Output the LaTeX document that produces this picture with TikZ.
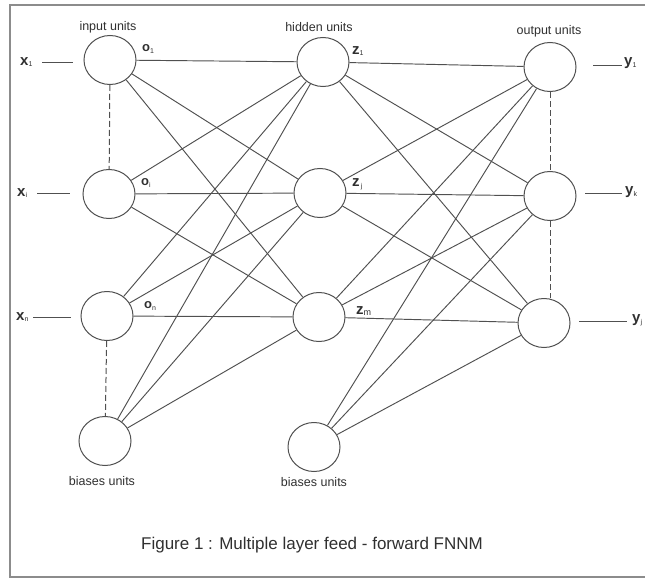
\documentclass[tikz,border=0pt]{standalone}
\usepackage{fontspec}
\setmainfont{Liberation Sans}
\usetikzlibrary{shapes.geometric}
\definecolor{ln}{HTML}{505050}
\definecolor{fr}{HTML}{8C8C8C}
\definecolor{tx}{HTML}{303030}
\newcommand\vlab[4]{{\fontsize{#1}{#1}\selectfont #2#3\raisebox{-0.12em}{\fontsize{7}{7}\selectfont\mdseries #4}}}
\begin{document}
\begin{tikzpicture}[x=1pt,y=-1pt,
  unit/.style={ellipse,draw=ln,line width=1pt,minimum width=52pt,minimum height=49pt,inner sep=0pt},
  conn/.style={draw=ln,line width=0.95pt},
  dashconn/.style={draw=ln,line width=1pt,dash pattern=on 6pt off 3pt},
  txt/.style={font=\fontsize{12.5}{14}\selectfont,text=tx,inner sep=0pt},
  var/.style={text=tx,inner sep=0pt,anchor=west},
  captxt/.style={font=\fontsize{17}{19}\selectfont,text=tx,inner sep=0pt}]
\useasboundingbox (0,0) rectangle (645,578);
\draw[fr,line width=1.5pt] (646,5) -- (10,5) -- (10,577) -- (646,577);
% units
\node[unit] (i1) at (110,60) {};
\node[unit] (ii) at (109,194) {};
\node[unit] (in) at (107,316) {};
\node[unit] (ib) at (105,441) {};
\node[unit] (h1) at (323,62) {};
\node[unit] (hj) at (320,193) {};
\node[unit] (hm) at (319,317) {};
\node[unit] (hb) at (314,447) {};
\node[unit] (o1) at (550,67) {};
\node[unit] (ok) at (550,196) {};
\node[unit] (oj) at (544,323) {};
% connections
\foreach \a in {i1,ii,in,ib} \foreach \b in {h1,hj,hm} \draw[conn] (\a) -- (\b);
\foreach \a in {h1,hj,hm,hb} \foreach \b in {o1,ok,oj} \draw[conn] (\a) -- (\b);
\draw[dashconn] (i1) -- (ii);
\draw[dashconn] (in) -- (ib);
\draw[dashconn] (o1) -- (ok);
\draw[dashconn] (ok.south) -- (ok.south |- oj.north);
% layer titles
\node[txt] (tin) at (108,27) {input units};
\node[txt] (thid) at (319,27) {hidden units};
\node[txt] (tout) at (549,31) {output units};
\node[txt] (tb1) at (102,481) {biases units};
\node[txt] (tb2) at (314,482) {biases units};
\node[captxt] (capt) at (312,545) {Figure 1 : Multiple layer feed - forward FNNM};
% input labels and lines
\node[var] (lx1) at (20,62) {\vlab{15}{\bfseries}{x}{1}};
\node[var] (lxi) at (17,193) {\vlab{15}{\bfseries}{x}{i}};
\node[var] (lxn) at (16,317) {\vlab{15}{\bfseries}{x}{n}};
\coordinate (x1a) at (42,62); \coordinate (x1b) at (73,62);
\coordinate (xia) at (37,193); \coordinate (xib) at (70,193);
\coordinate (xna) at (33,317); \coordinate (xnb) at (71,317);
\draw[conn] (x1a) -- (x1b);
\draw[conn] (xia) -- (xib);
\draw[conn] (xna) -- (xnb);
% output labels and lines
\node[var] (ly1) at (624,63) {\vlab{15}{\bfseries}{y}{1}};
\node[var] (lyk) at (625,192) {\vlab{15}{\bfseries}{y}{k}};
\node[var] (lyj) at (632,320) {\vlab{15}{\bfseries}{y}{j}};
\coordinate (y1a) at (593,65); \coordinate (y1b) at (622,65);
\coordinate (yka) at (585,193); \coordinate (ykb) at (622,193);
\coordinate (yja) at (579,321); \coordinate (yjb) at (627,321);
\draw[conn] (y1a) -- (y1b);
\draw[conn] (yka) -- (ykb);
\draw[conn] (yja) -- (yjb);
% o labels
\node[var] (lo1) at (142,49) {\vlab{13}{\bfseries}{o}{1}};
\node[var] (loi) at (141,183) {\vlab{13}{\bfseries}{o}{i}};
\node[var] (lon) at (144,306) {\vlab{13}{\bfseries}{o}{n}};
% z labels
\node[var] (lz1) at (352,51) {\vlab{15}{\bfseries}{z}{1}};
\node[var] (lzj) at (352,184) {\vlab{15}{\bfseries}{z}{\,j}};
\node[var] (lzm) at (356,311) {\vlab{15}{\bfseries}{z}{\fontsize{9}{9}\selectfont m}};
\end{tikzpicture}
\end{document}
